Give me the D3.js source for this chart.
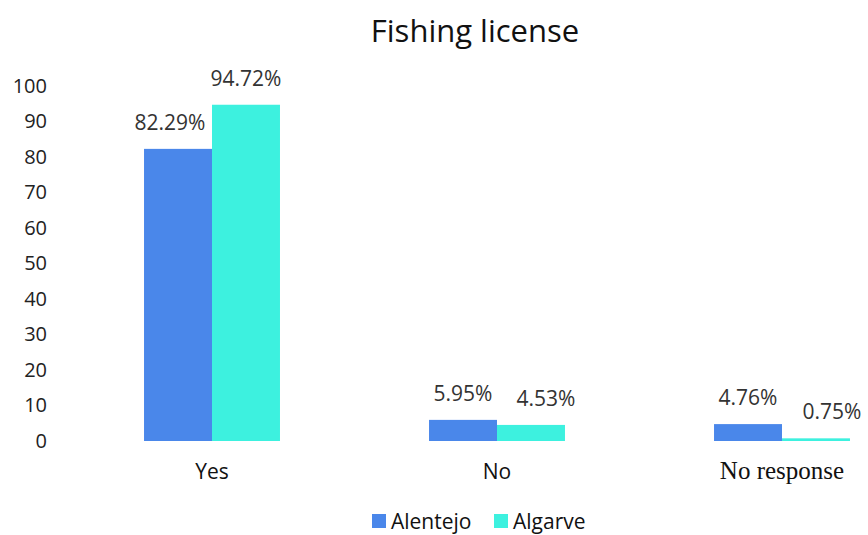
<!DOCTYPE html>
<html>
<head>
<meta charset="utf-8">
<script src="https://cdn.jsdelivr.net/npm/d3@7"></script>
<style>
  html, body { margin: 0; padding: 0; background: #fff; }
  svg { display: block; }
</style>
</head>
<body>
<svg id="chart" width="868" height="535"></svg>
<script>
// Chart data
const categories = ["Yes", "No", "No response"];
const seriesNames = ["Alentejo", "Algarve"];
const alentejo = [82.29, 5.95, 4.76];
const algarve = [94.72, 4.53, 0.75];
const yTicks = [0, 10, 20, 30, 40, 50, 60, 70, 80, 90, 100];
const colors = ["#4a87ea", "#3df1df"];

const seriesValues = [alentejo, algarve];

// Hand-placed horizontal nudges for the value labels, [series][category]
const labelNudge = [[-8, 0, 0], [0, 15, 16]];

const svg = d3.select("#chart");
const SANS = "'Open Sans', sans-serif";

const x = d3.scaleBand()
  .domain(categories)
  .range([69.5, 924.5])
  .paddingInner(0.523)
  .paddingOuter(0.2615);

const xs = d3.scaleBand()
  .domain(seriesNames)
  .range([0, x.bandwidth()]);

const y = d3.scaleLinear().domain([0, 100]).range([441, 86]);

// Title
svg.append("text")
  .attr("x", 475).attr("y", 42)
  .attr("text-anchor", "middle")
  .attr("font-family", SANS)
  .attr("font-size", 31)
  .attr("fill", "#111")
  .text("Fishing license");

// Y axis (labels only)
const yAxis = d3.axisLeft(y).tickValues(yTicks).tickSize(0).tickPadding(0);
const gy = svg.append("g").attr("transform", "translate(47,0)").call(yAxis);
gy.select(".domain").remove();
gy.selectAll("text")
  .attr("font-family", SANS)
  .attr("font-size", 20)
  .attr("fill", "#222");

// Bars
const groups = svg.append("g").selectAll("g")
  .data(categories)
  .join("g")
  .attr("transform", d => `translate(${x(d)},0)`);

const cellData = (d, i) => seriesNames.map((s, j) => ({ s, j, i, v: seriesValues[j][i] }));

groups.selectAll("rect")
  .data(cellData)
  .join("rect")
  .attr("x", d => xs(d.s))
  .attr("y", d => y(d.v))
  .attr("width", xs.bandwidth())
  .attr("height", d => y(0) - y(d.v))
  .attr("fill", d => colors[d.j]);

// Value labels
groups.selectAll("text.val")
  .data(cellData)
  .join("text")
  .attr("class", "val")
  .attr("x", d => xs(d.s) + xs.bandwidth() / 2 + labelNudge[d.j][d.i])
  .attr("y", d => y(d.v) - 19)
  .attr("text-anchor", "middle")
  .attr("font-family", SANS)
  .attr("font-size", 21)
  .attr("fill", "#333")
  .text(d => d.v.toFixed(2) + "%");

// Category labels
const catFonts = [SANS, SANS, "'Liberation Serif', serif"];
const catSizes = [21, 21, 25];
svg.append("g").selectAll("text")
  .data(categories)
  .join("text")
  .attr("x", d => x(d) + x.bandwidth() / 2)
  .attr("y", 479)
  .attr("text-anchor", "middle")
  .attr("font-family", (d, i) => catFonts[i])
  .attr("font-size", (d, i) => catSizes[i])
  .attr("fill", "#111")
  .text(d => d);

// Legend
const legend = svg.append("g").attr("transform", "translate(372,514)");
const legendX = [0, 122];
seriesNames.forEach((s, j) => {
  const g = legend.append("g").attr("transform", `translate(${legendX[j]},0)`);
  g.append("rect").attr("x", 0).attr("y", 0).attr("width", 14).attr("height", 14).attr("fill", colors[j]);
  g.append("text")
    .attr("x", 19).attr("y", 15)
    .attr("font-family", SANS)
    .attr("font-size", 21)
    .attr("fill", "#111")
    .text(s);
});
</script>
</body>
</html>
